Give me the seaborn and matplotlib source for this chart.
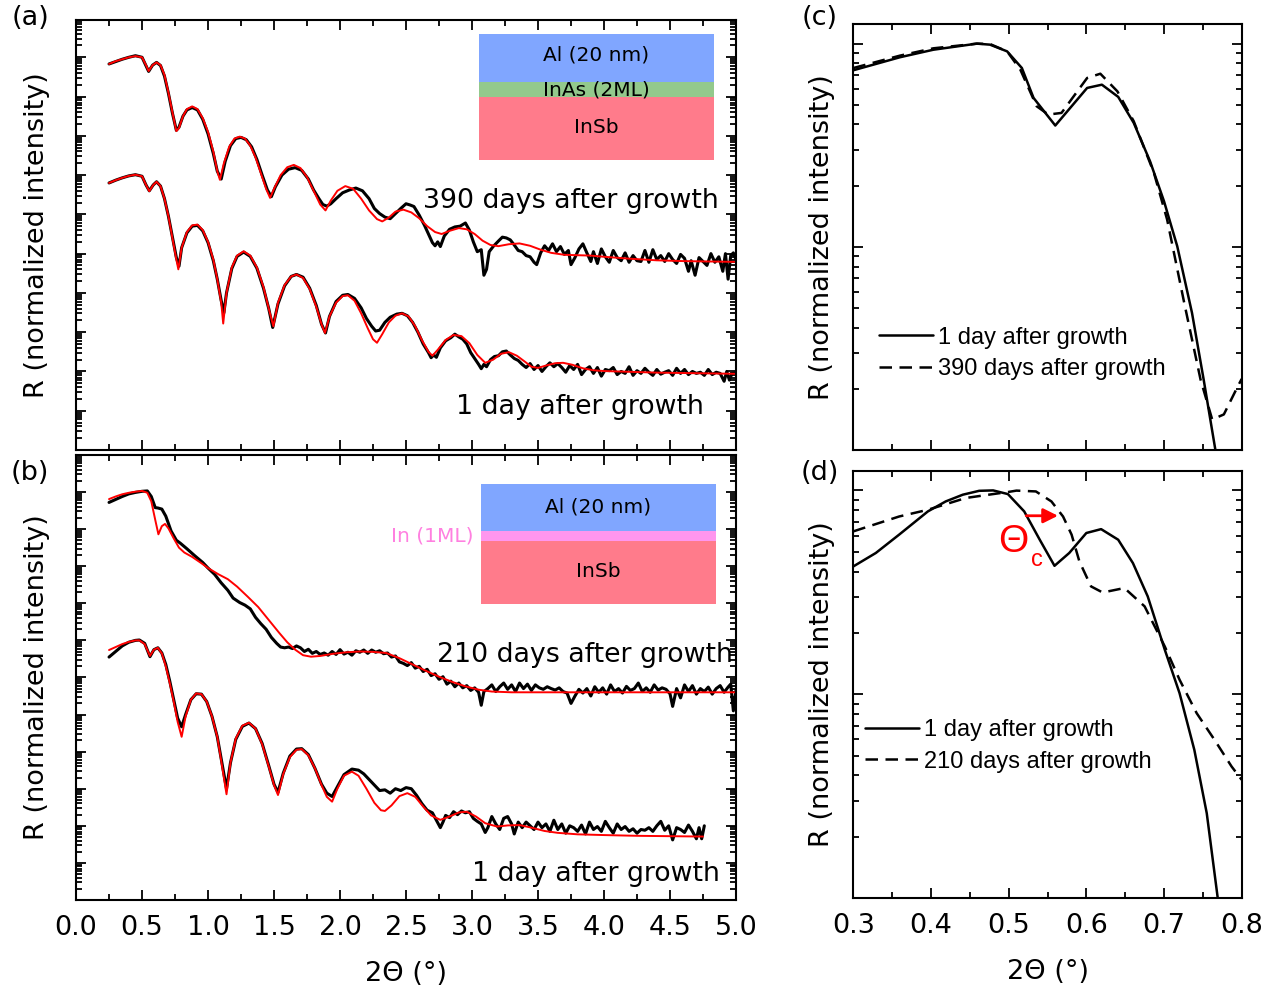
import numpy as np
import matplotlib
matplotlib.use("Agg")
import matplotlib.pyplot as plt
from matplotlib.patches import Rectangle
from matplotlib.ticker import LogLocator, MultipleLocator, NullFormatter, FormatStrFormatter
import seaborn as sns

# all curves: (2theta in deg, log10 of normalized reflectivity, offset for clarity)

# (a) Al / InAs(2ML) / InSb
a390_fit = [(0.25, 9.83), (0.30, 9.90), (0.35, 9.95), (0.40, 10.00), (0.45, 10.03), (0.50, 10.00),
            (0.53, 9.80), (0.55, 9.65), (0.58, 9.80), (0.61, 9.87), (0.64, 9.80), (0.67, 9.55),
            (0.70, 9.10), (0.73, 8.60), (0.76, 8.12), (0.78, 8.20), (0.81, 8.50), (0.84, 8.68),
            (0.88, 8.75), (0.92, 8.68), (0.96, 8.45), (1.00, 8.10), (1.04, 7.60), (1.07, 7.10),
            (1.09, 6.88), (1.12, 7.30), (1.16, 7.72), (1.20, 7.93), (1.24, 7.98), (1.28, 7.93),
            (1.32, 7.75), (1.36, 7.45), (1.40, 7.05), (1.44, 6.65), (1.47, 6.42), (1.50, 6.65),
            (1.55, 7.00), (1.60, 7.20), (1.65, 7.26), (1.70, 7.18), (1.75, 6.95), (1.80, 6.60),
            (1.85, 6.25), (1.89, 6.10), (1.93, 6.35), (1.98, 6.60), (2.04, 6.72), (2.10, 6.65),
            (2.16, 6.40), (2.22, 6.10), (2.28, 5.88), (2.32, 5.82), (2.37, 5.92), (2.42, 6.07),
            (2.48, 6.12), (2.54, 6.05), (2.60, 5.90), (2.66, 5.70), (2.72, 5.55), (2.77, 5.50),
            (2.83, 5.58), (2.90, 5.65), (2.96, 5.62), (3.02, 5.50), (3.08, 5.33), (3.14, 5.22),
            (3.20, 5.19), (3.28, 5.24), (3.36, 5.26), (3.44, 5.20), (3.52, 5.10), (3.60, 5.02),
            (3.70, 4.97), (3.80, 4.96), (3.90, 4.95), (4.00, 4.92), (4.20, 4.87), (4.40, 4.83),
            (4.60, 4.81), (4.80, 4.80), (5.00, 4.79)]
a390_meas = [(0.25, 9.83), (0.30, 9.89), (0.35, 9.95), (0.40, 10.00), (0.45, 10.04), (0.50, 10.00),
             (0.53, 9.78), (0.55, 9.64), (0.58, 9.80), (0.61, 9.87), (0.64, 9.79), (0.67, 9.52),
             (0.70, 9.08), (0.73, 8.58), (0.76, 8.14), (0.78, 8.22), (0.81, 8.50), (0.84, 8.66),
             (0.88, 8.72), (0.92, 8.66), (0.96, 8.42), (1.00, 8.05), (1.04, 7.55), (1.07, 7.10),
             (1.10, 6.90), (1.13, 7.35), (1.17, 7.75), (1.21, 7.93), (1.25, 7.96), (1.29, 7.90),
             (1.33, 7.72), (1.37, 7.40), (1.41, 7.00), (1.45, 6.62), (1.48, 6.45), (1.51, 6.70),
             (1.56, 7.00), (1.61, 7.15), (1.66, 7.19), (1.71, 7.12), (1.76, 6.90), (1.80, 6.62),
             (1.84, 6.40), (1.87, 6.25), (1.90, 6.21), (1.93, 6.27), (1.97, 6.40), (2.02, 6.55),
             (2.07, 6.62), (2.12, 6.67), (2.17, 6.60), (2.22, 6.40), (2.26, 6.15), (2.30, 6.02),
             (2.34, 5.93), (2.38, 5.89), (2.42, 6.02), (2.46, 6.15), (2.50, 6.27), (2.53, 6.24),
             (2.56, 6.20), (2.60, 5.98), (2.64, 5.72), (2.67, 5.50), (2.70, 5.28), (2.72, 5.20),
             (2.74, 5.30), (2.76, 5.18), (2.79, 5.45), (2.83, 5.62), (2.87, 5.68), (2.91, 5.70),
             (2.95, 5.78), (2.98, 5.60), (3.01, 5.30), (3.04, 5.05), (3.07, 5.10), (3.09, 4.45),
             (3.11, 4.60), (3.13, 5.05), (3.16, 5.18), (3.20, 5.32), (3.23, 5.42), (3.26, 5.40),
             (3.29, 5.35), (3.32, 5.22), (3.35, 5.08), (3.38, 5.05), (3.41, 4.95), (3.44, 4.92),
             (3.47, 4.78), (3.49, 4.72), (3.52, 5.02), (3.55, 5.20), (3.58, 5.08), (3.61, 5.25),
             (3.64, 5.05), (3.67, 5.18), (3.70, 4.98), (3.73, 5.08), (3.75, 4.72), (3.78, 4.90),
             (3.81, 5.12), (3.84, 5.25), (3.87, 5.02), (3.90, 4.80), (3.92, 5.05), (3.95, 4.75),
             (3.98, 5.12), (4.01, 4.92), (4.04, 4.78), (4.07, 5.08), (4.10, 4.90), (4.13, 4.82),
             (4.16, 5.02), (4.19, 4.78), (4.22, 4.95), (4.25, 4.82), (4.28, 4.80), (4.31, 5.08),
             (4.34, 4.78), (4.37, 5.10), (4.40, 4.85), (4.43, 4.95), (4.46, 4.80), (4.49, 5.00),
             (4.52, 4.85), (4.55, 4.75), (4.58, 4.98), (4.61, 4.88), (4.64, 4.55), (4.66, 4.82),
             (4.69, 4.45), (4.72, 4.90), (4.75, 4.80), (4.78, 4.70), (4.81, 5.00), (4.84, 4.78),
             (4.87, 4.92), (4.90, 4.55), (4.92, 5.00), (4.94, 4.35), (4.96, 4.95), (4.98, 5.02),
             (5.00, 4.85)]
a1_fit = [(0.25, 6.80), (0.30, 6.87), (0.35, 6.93), (0.40, 6.98), (0.45, 7.01), (0.50, 6.97),
          (0.53, 6.75), (0.555, 6.59), (0.585, 6.75), (0.61, 6.83), (0.64, 6.72), (0.67, 6.40),
          (0.70, 5.95), (0.73, 5.40), (0.76, 4.85), (0.775, 4.60), (0.80, 5.15), (0.84, 5.55),
          (0.88, 5.72), (0.92, 5.74), (0.96, 5.60), (1.00, 5.30), (1.04, 4.85), (1.07, 4.35),
          (1.10, 3.75), (1.115, 3.22), (1.14, 4.00), (1.18, 4.65), (1.22, 4.95), (1.27, 5.06),
          (1.32, 4.95), (1.37, 4.65), (1.42, 4.15), (1.46, 3.60), (1.495, 3.15), (1.53, 3.75),
          (1.58, 4.20), (1.63, 4.42), (1.67, 4.47), (1.72, 4.38), (1.77, 4.10), (1.82, 3.65),
          (1.86, 3.20), (1.886, 2.98), (1.92, 3.40), (1.97, 3.75), (2.02, 3.92), (2.06, 3.94),
          (2.11, 3.80), (2.16, 3.48), (2.21, 3.10), (2.25, 2.82), (2.28, 2.73), (2.32, 2.95),
          (2.37, 3.25), (2.42, 3.42), (2.47, 3.48), (2.52, 3.40), (2.57, 3.15), (2.62, 2.80),
          (2.67, 2.50), (2.70, 2.40), (2.74, 2.55), (2.80, 2.80), (2.86, 2.93), (2.92, 2.90),
          (2.98, 2.72), (3.04, 2.42), (3.10, 2.22), (3.16, 2.30), (3.22, 2.45), (3.28, 2.49),
          (3.34, 2.40), (3.40, 2.25), (3.45, 2.12), (3.50, 2.09), (3.56, 2.15), (3.63, 2.21),
          (3.69, 2.22), (3.76, 2.17), (3.84, 2.08), (3.92, 2.03), (4.00, 2.01), (4.20, 1.99),
          (4.40, 1.97), (4.60, 1.96), (4.80, 1.95), (5.00, 1.94)]
a1_meas = [(0.25, 6.80), (0.30, 6.87), (0.35, 6.93), (0.40, 6.98), (0.45, 7.01), (0.50, 6.97),
           (0.53, 6.75), (0.555, 6.60), (0.585, 6.75), (0.61, 6.83), (0.64, 6.72), (0.67, 6.40),
           (0.70, 5.95), (0.73, 5.42), (0.76, 4.90), (0.78, 4.68), (0.80, 5.15), (0.84, 5.53),
           (0.88, 5.70), (0.92, 5.72), (0.96, 5.58), (1.00, 5.28), (1.04, 4.82), (1.07, 4.35),
           (1.10, 3.80), (1.12, 3.49), (1.14, 4.00), (1.18, 4.62), (1.22, 4.93), (1.27, 5.04),
           (1.32, 4.93), (1.37, 4.63), (1.42, 4.12), (1.46, 3.60), (1.49, 3.12), (1.53, 3.72),
           (1.58, 4.18), (1.63, 4.42), (1.67, 4.47), (1.72, 4.40), (1.77, 4.12), (1.82, 3.68),
           (1.86, 3.20), (1.89, 2.98), (1.92, 3.40), (1.97, 3.78), (2.02, 3.94), (2.06, 3.96),
           (2.11, 3.86), (2.16, 3.62), (2.20, 3.35), (2.24, 3.15), (2.27, 3.03), (2.30, 3.05),
           (2.34, 3.25), (2.38, 3.38), (2.43, 3.46), (2.47, 3.48), (2.51, 3.42), (2.55, 3.25),
           (2.59, 3.00), (2.63, 2.70), (2.67, 2.48), (2.69, 2.35), (2.71, 2.42), (2.73, 2.36),
           (2.76, 2.60), (2.80, 2.78), (2.84, 2.86), (2.87, 2.95), (2.90, 2.88), (2.93, 2.82),
           (2.96, 2.70), (2.99, 2.48), (3.02, 2.33), (3.05, 2.18), (3.07, 2.07), (3.09, 2.18),
           (3.11, 2.12), (3.14, 2.30), (3.17, 2.38), (3.20, 2.40), (3.23, 2.50), (3.26, 2.52),
           (3.29, 2.42), (3.32, 2.33), (3.35, 2.28), (3.38, 2.18), (3.41, 2.10), (3.44, 2.20),
           (3.47, 2.05), (3.50, 2.15), (3.53, 2.00), (3.56, 2.12), (3.59, 2.22), (3.62, 2.12),
           (3.65, 2.20), (3.68, 2.10), (3.71, 1.98), (3.74, 2.15), (3.77, 2.05), (3.80, 2.18),
           (3.83, 1.92), (3.86, 2.05), (3.89, 2.12), (3.92, 1.95), (3.95, 2.10), (3.98, 1.88),
           (4.01, 2.05), (4.04, 2.02), (4.07, 2.10), (4.10, 1.92), (4.13, 2.00), (4.16, 1.95),
           (4.19, 2.12), (4.22, 1.90), (4.25, 2.02), (4.28, 1.95), (4.31, 2.08), (4.34, 1.98),
           (4.37, 1.90), (4.40, 2.05), (4.43, 1.93), (4.46, 1.98), (4.49, 2.02), (4.52, 1.90),
           (4.55, 2.08), (4.58, 1.95), (4.61, 2.05), (4.64, 1.92), (4.67, 2.00), (4.70, 1.95),
           (4.73, 1.98), (4.76, 1.90), (4.79, 2.05), (4.82, 1.92), (4.85, 1.98), (4.88, 1.95),
           (4.91, 1.75), (4.93, 2.00), (4.95, 1.78), (4.97, 1.95), (5.00, 1.96)]

# (b) Al / In(1ML) / InSb
b210_fit = [(0.25, 10.81), (0.30, 10.88), (0.35, 10.94), (0.40, 10.98), (0.45, 11.01), (0.50, 11.03),
            (0.54, 10.98), (0.57, 10.75), (0.60, 10.25), (0.624, 9.86), (0.65, 10.08), (0.674, 10.14),
            (0.70, 10.02), (0.74, 9.75), (0.78, 9.50), (0.82, 9.37), (0.88, 9.25), (0.95, 9.08),
            (1.00, 8.95), (1.08, 8.78), (1.15, 8.65), (1.22, 8.45), (1.30, 8.18), (1.38, 7.90),
            (1.46, 7.55), (1.54, 7.20), (1.60, 6.95), (1.66, 6.75), (1.72, 6.60), (1.78, 6.56),
            (1.85, 6.58), (1.95, 6.64), (2.05, 6.68), (2.15, 6.70), (2.25, 6.69), (2.35, 6.66),
            (2.45, 6.52), (2.55, 6.35), (2.65, 6.18), (2.75, 6.02), (2.85, 5.88), (2.95, 5.76),
            (3.05, 5.67), (3.15, 5.62), (3.30, 5.60), (3.60, 5.60), (4.00, 5.60), (4.50, 5.60),
            (5.00, 5.60)]
b210_meas = [(0.25, 10.72), (0.30, 10.80), (0.35, 10.88), (0.40, 10.95), (0.45, 10.99), (0.50, 11.02),
             (0.54, 11.03), (0.57, 10.88), (0.60, 10.58), (0.62, 10.57), (0.65, 10.54), (0.68, 10.35),
             (0.72, 9.95), (0.76, 9.70), (0.79, 9.62), (0.84, 9.47), (0.90, 9.28), (0.96, 9.10),
             (1.00, 8.95), (1.05, 8.78), (1.10, 8.55), (1.15, 8.35), (1.19, 8.14), (1.24, 8.02),
             (1.28, 7.95), (1.32, 7.85), (1.36, 7.62), (1.40, 7.45), (1.44, 7.30), (1.48, 7.08),
             (1.52, 6.92), (1.55, 6.82), (1.58, 6.80), (1.61, 6.82), (1.64, 6.78), (1.67, 6.85),
             (1.70, 6.80), (1.73, 6.70), (1.76, 6.76), (1.79, 6.65), (1.82, 6.70), (1.85, 6.62),
             (1.88, 6.66), (1.91, 6.60), (1.94, 6.70), (1.97, 6.62), (2.00, 6.75), (2.03, 6.63),
             (2.06, 6.68), (2.09, 6.60), (2.12, 6.72), (2.15, 6.68), (2.18, 6.74), (2.21, 6.65),
             (2.24, 6.74), (2.27, 6.68), (2.30, 6.72), (2.33, 6.64), (2.36, 6.66), (2.39, 6.55),
             (2.42, 6.58), (2.45, 6.42), (2.48, 6.38), (2.51, 6.32), (2.54, 6.40), (2.57, 6.25),
             (2.60, 6.30), (2.63, 6.16), (2.66, 6.22), (2.69, 6.05), (2.72, 6.10), (2.75, 5.95),
             (2.78, 6.02), (2.81, 5.82), (2.84, 5.90), (2.87, 5.75), (2.90, 5.85), (2.93, 5.72),
             (2.96, 5.78), (2.99, 5.65), (3.02, 5.72), (3.05, 5.60), (3.07, 5.25), (3.09, 5.62),
             (3.12, 5.70), (3.15, 5.80), (3.18, 5.62), (3.21, 5.75), (3.24, 5.85), (3.27, 5.68),
             (3.30, 5.80), (3.33, 5.62), (3.36, 5.85), (3.39, 5.70), (3.42, 5.82), (3.45, 5.65),
             (3.48, 5.80), (3.51, 5.72), (3.54, 5.68), (3.57, 5.75), (3.60, 5.70), (3.63, 5.66),
             (3.66, 5.72), (3.69, 5.62), (3.72, 5.58), (3.75, 5.30), (3.78, 5.50), (3.81, 5.68),
             (3.84, 5.58), (3.87, 5.70), (3.90, 5.50), (3.93, 5.75), (3.96, 5.60), (3.99, 5.72),
             (4.02, 5.55), (4.05, 5.80), (4.08, 5.62), (4.11, 5.70), (4.14, 5.58), (4.17, 5.76),
             (4.20, 5.65), (4.23, 5.70), (4.26, 5.85), (4.29, 5.62), (4.32, 5.72), (4.35, 5.60),
             (4.38, 5.80), (4.41, 5.66), (4.44, 5.72), (4.47, 5.68), (4.50, 5.56), (4.52, 5.22),
             (4.55, 5.70), (4.58, 5.45), (4.61, 5.80), (4.64, 5.62), (4.67, 5.78), (4.70, 5.55),
             (4.73, 5.70), (4.76, 5.62), (4.79, 5.74), (4.82, 5.55), (4.85, 5.70), (4.88, 5.78),
             (4.91, 5.60), (4.94, 5.74), (4.96, 5.82), (4.98, 5.10), (5.00, 5.65)]
b1_fit = [(0.25, 6.74), (0.30, 6.82), (0.35, 6.90), (0.40, 6.96), (0.45, 7.00), (0.48, 7.00),
          (0.52, 6.90), (0.56, 6.58), (0.59, 6.75), (0.62, 6.80), (0.65, 6.65), (0.68, 6.30),
          (0.71, 5.85), (0.74, 5.35), (0.77, 4.80), (0.80, 4.40), (0.83, 4.95), (0.87, 5.40),
          (0.91, 5.57), (0.95, 5.55), (0.99, 5.35), (1.03, 4.95), (1.07, 4.40), (1.10, 3.75),
          (1.14, 2.85), (1.17, 3.70), (1.21, 4.35), (1.26, 4.70), (1.31, 4.78), (1.36, 4.62),
          (1.41, 4.20), (1.46, 3.60), (1.50, 3.10), (1.53, 2.83), (1.57, 3.40), (1.62, 3.85),
          (1.67, 4.05), (1.71, 4.07), (1.76, 3.90), (1.81, 3.55), (1.86, 3.10), (1.90, 2.78),
          (1.94, 2.65), (1.98, 3.00), (2.03, 3.35), (2.09, 3.46), (2.14, 3.35), (2.20, 3.00),
          (2.26, 2.62), (2.31, 2.42), (2.34, 2.40), (2.39, 2.55), (2.45, 2.80), (2.51, 2.88),
          (2.57, 2.78), (2.63, 2.52), (2.69, 2.28), (2.76, 2.16), (2.83, 2.25), (2.90, 2.36),
          (2.96, 2.38), (3.03, 2.25), (3.10, 2.07), (3.19, 1.98), (3.27, 2.01), (3.36, 2.02),
          (3.45, 1.95), (3.55, 1.86), (3.65, 1.81), (3.80, 1.77), (4.00, 1.75), (4.25, 1.73),
          (4.50, 1.72), (4.75, 1.71)]
b1_meas = [(0.25, 6.55), (0.30, 6.70), (0.35, 6.85), (0.40, 6.95), (0.45, 7.00), (0.48, 7.01),
           (0.52, 6.92), (0.56, 6.56), (0.59, 6.75), (0.62, 6.80), (0.65, 6.66), (0.68, 6.35),
           (0.71, 5.90), (0.74, 5.40), (0.77, 4.90), (0.80, 4.67), (0.83, 5.00), (0.87, 5.40),
           (0.91, 5.56), (0.95, 5.55), (0.99, 5.35), (1.03, 4.95), (1.07, 4.40), (1.10, 3.80),
           (1.14, 3.00), (1.17, 3.70), (1.21, 4.33), (1.26, 4.68), (1.31, 4.77), (1.36, 4.62),
           (1.41, 4.22), (1.46, 3.62), (1.50, 3.12), (1.53, 2.90), (1.57, 3.42), (1.62, 3.88),
           (1.67, 4.07), (1.71, 4.08), (1.76, 3.92), (1.81, 3.55), (1.86, 3.12), (1.90, 2.88),
           (1.94, 2.79), (1.98, 3.05), (2.03, 3.38), (2.09, 3.53), (2.14, 3.50), (2.18, 3.40),
           (2.22, 3.25), (2.26, 3.10), (2.30, 2.95), (2.34, 2.97), (2.38, 2.88), (2.42, 3.00),
           (2.46, 2.95), (2.50, 3.03), (2.54, 3.00), (2.58, 2.82), (2.62, 2.60), (2.66, 2.42),
           (2.70, 2.35), (2.73, 2.15), (2.76, 1.95), (2.78, 2.10), (2.80, 2.28), (2.83, 2.22),
           (2.86, 2.38), (2.89, 2.30), (2.92, 2.40), (2.95, 2.35), (2.98, 2.38), (3.01, 2.20),
           (3.04, 2.12), (3.07, 2.05), (3.10, 1.82), (3.12, 1.95), (3.15, 2.25), (3.18, 2.05),
           (3.21, 1.90), (3.24, 2.20), (3.27, 2.25), (3.30, 2.05), (3.32, 1.78), (3.35, 2.10),
           (3.38, 1.95), (3.41, 2.10), (3.44, 2.00), (3.47, 1.90), (3.50, 2.10), (3.53, 1.95),
           (3.56, 2.05), (3.59, 1.85), (3.62, 2.15), (3.65, 1.90), (3.68, 2.05), (3.71, 1.80),
           (3.74, 2.00), (3.77, 1.95), (3.80, 1.85), (3.83, 2.02), (3.86, 1.78), (3.89, 2.10),
           (3.92, 1.90), (3.95, 1.98), (3.98, 1.85), (4.01, 2.12), (4.04, 1.95), (4.07, 1.80),
           (4.10, 2.05), (4.13, 1.90), (4.16, 1.98), (4.19, 1.85), (4.22, 1.92), (4.25, 1.80),
           (4.28, 1.90), (4.31, 1.88), (4.34, 1.95), (4.37, 1.85), (4.40, 2.00), (4.43, 2.12),
           (4.46, 1.88), (4.49, 2.00), (4.52, 1.62), (4.55, 1.95), (4.58, 1.90), (4.61, 1.82),
           (4.64, 2.02), (4.67, 1.85), (4.70, 1.65), (4.72, 1.95), (4.74, 1.65), (4.76, 2.00)]

# (c), (d) zoom near the critical angle, log10(R)
c_1day = [(0.300, -0.131), (0.360, -0.067), (0.403, -0.030), (0.459, 0.000), (0.476, -0.005),
          (0.498, -0.038), (0.517, -0.120), (0.532, -0.267), (0.560, -0.403), (0.601, -0.218),
          (0.620, -0.202), (0.641, -0.262), (0.661, -0.390), (0.682, -0.579), (0.700, -0.776),
          (0.717, -0.997), (0.736, -1.325), (0.751, -1.653), (0.766, -1.997), (0.775, -2.200)]
c_390day = [(0.300, -0.120), (0.360, -0.059), (0.403, -0.023), (0.459, 0.000), (0.476, -0.002),
            (0.498, -0.038), (0.515, -0.128), (0.536, -0.308), (0.551, -0.349), (0.568, -0.341),
            (0.601, -0.169), (0.618, -0.148), (0.640, -0.235), (0.661, -0.382), (0.687, -0.636),
            (0.704, -0.866), (0.726, -1.276), (0.747, -1.653), (0.762, -1.850), (0.777, -1.825),
            (0.794, -1.694), (0.800, -1.650)]
d_1day = [(0.300, -0.373), (0.329, -0.307), (0.359, -0.217), (0.396, -0.103), (0.419, -0.054),
          (0.441, -0.021), (0.462, -0.002), (0.480, 0.000), (0.499, -0.018), (0.520, -0.103),
          (0.540, -0.242), (0.559, -0.370), (0.578, -0.307), (0.600, -0.209), (0.619, -0.190),
          (0.641, -0.242), (0.660, -0.357), (0.679, -0.520), (0.701, -0.782), (0.720, -0.995),
          (0.739, -1.273), (0.755, -1.584), (0.769, -1.996), (0.775, -2.200)]
d_210day = [(0.300, -0.201), (0.359, -0.128), (0.396, -0.095), (0.445, -0.037), (0.480, -0.018),
            (0.499, -0.008), (0.510, -0.001), (0.535, -0.005), (0.555, -0.054), (0.570, -0.128),
            (0.581, -0.217), (0.591, -0.348), (0.606, -0.471), (0.621, -0.501), (0.649, -0.479),
            (0.675, -0.569), (0.701, -0.766), (0.720, -0.929), (0.742, -1.093), (0.765, -1.224),
            (0.787, -1.355), (0.800, -1.420)]

sns.set_style("ticks")
plt.rcParams["font.family"] = ["DejaVu Sans"]
plt.rcParams["text.color"] = "black"
plt.rcParams["axes.labelcolor"] = "black"

LAB = 19.5

fig = plt.figure(figsize=(12.78, 9.94), dpi=100)
ax_a = fig.add_axes([0.0595, 0.5473, 0.5164, 0.4326])
ax_b = fig.add_axes([0.0595, 0.0946, 0.5164, 0.4477])
ax_c = fig.add_axes([0.6677, 0.5473, 0.3039, 0.4286])
ax_d = fig.add_axes([0.6677, 0.0966, 0.3039, 0.4299])


def draw(ax, pts, color, lw, ls="-", label=None):
    arr = np.array(pts)
    sns.lineplot(x=arr[:, 0], y=10 ** arr[:, 1], ax=ax, color=color, lw=lw,
                 linestyle=ls, label=label, sort=False, estimator=None)


def style(ax):
    ax.set_yscale("log")
    for s in ax.spines.values():
        s.set_linewidth(1.5)
        s.set_color("black")
    ax.tick_params(which="both", direction="in", top=True, right=True,
                   width=1.3, labelsize=LAB, colors="black", pad=11)
    ax.tick_params(which="major", length=7)
    ax.tick_params(which="minor", length=4)
    ax.yaxis.set_major_locator(LogLocator(base=10, numticks=40))
    ax.yaxis.set_minor_locator(LogLocator(base=10, subs=np.arange(2, 10), numticks=200))
    ax.yaxis.set_major_formatter(NullFormatter())
    ax.yaxis.set_minor_formatter(NullFormatter())
    ax.set_ylabel("R (normalized intensity)", fontsize=LAB)
    ax.set_xlabel("")


for ax, curves in [(ax_a, [a390_meas, a390_fit, a1_meas, a1_fit]),
                   (ax_b, [b210_meas, b210_fit, b1_meas, b1_fit])]:
    for i, c in enumerate(curves):
        if i % 2 == 0:
            draw(ax, c, "black", 2.2)
        else:
            draw(ax, c, "red", 1.4)
    style(ax)
    ax.set_xlim(0, 5)
    ax.xaxis.set_major_locator(MultipleLocator(0.5))
    ax.xaxis.set_minor_locator(MultipleLocator(0.25))
    ax.yaxis.set_label_coords(-0.040, 0.5)

ax_a.set_ylim(1, 10 ** 10.95)
ax_b.set_ylim(1, 1e12)
ax_a.tick_params(labelbottom=False)
ax_b.xaxis.set_major_formatter(FormatStrFormatter("%.1f"))
ax_b.set_xlabel("2\u0398 (\u00b0)", fontsize=LAB, labelpad=14)

draw(ax_c, c_1day, "black", 1.8, "-", "1 day after growth")
draw(ax_c, c_390day, "black", 1.8, (0, (5, 3)), "390 days after growth")
draw(ax_d, d_1day, "black", 1.8, "-", "1 day after growth")
draw(ax_d, d_210day, "black", 1.8, (0, (5, 3)), "210 days after growth")
for ax in (ax_c, ax_d):
    style(ax)
    ax.set_xlim(0.3, 0.8)
    ax.set_ylim(0.01, 1.25)
    ax.xaxis.set_major_locator(MultipleLocator(0.1))
    ax.xaxis.set_minor_locator(MultipleLocator(0.05))
    ax.yaxis.set_label_coords(-0.046, 0.5)
ax_c.tick_params(labelbottom=False)
ax_d.xaxis.set_major_formatter(FormatStrFormatter("%.1f"))
ax_d.set_xlabel("2\u0398 (\u00b0)", fontsize=LAB, labelpad=14)

leg_font = {"family": "Liberation Sans", "size": 17}
ax_c.legend(loc="center left", bbox_to_anchor=(0.065, 0.227), frameon=False, prop=leg_font,
            handlelength=2.3, handletextpad=0.2, labelspacing=0.4, borderaxespad=0, borderpad=0)
ax_d.legend(loc="center left", bbox_to_anchor=(0.03, 0.356), frameon=False, prop=leg_font,
            handlelength=2.3, handletextpad=0.2, labelspacing=0.4, borderaxespad=0, borderpad=0)

# critical angle shift
ax_d.annotate("", xy=(0.567, 0.751), xytext=(0.519, 0.751),
              arrowprops=dict(arrowstyle="-|>", color="red", lw=2, mutation_scale=22))
ax_d.text(0.412, 0.834, "\u0398", transform=ax_d.transAxes, color="red", fontsize=28,
          family="Liberation Sans", ha="center", va="center")
ax_d.text(0.472, 0.790, "c", transform=ax_d.transAxes, color="red", fontsize=17,
          family="Liberation Sans", ha="center", va="center")

# curve labels
ax_a.text(0.974, 0.579, "390 days after growth", transform=ax_a.transAxes, fontsize=19.3,
          ha="right", va="center")
ax_a.text(0.9515, 0.100, "1 day after growth", transform=ax_a.transAxes, fontsize=19.3,
          ha="right", va="center")
ax_b.text(0.9955, 0.551, "210 days after growth", transform=ax_b.transAxes, fontsize=19.3,
          ha="right", va="center")
ax_b.text(0.976, 0.058, "1 day after growth", transform=ax_b.transAxes, fontsize=19.3,
          ha="right", va="center")

# layer stack sketches
blue, green, red, pink = "#80a6ff", "#93c98c", "#ff7b8b", "#ff96ee"
x0, x1 = 0.6106, 0.9667
for (yb, yt, col) in [(0.856, 0.967, blue), (0.821, 0.856, green), (0.674, 0.821, red)]:
    ax_a.add_patch(Rectangle((x0, yb), x1 - x0, yt - yb, transform=ax_a.transAxes,
                             facecolor=col, edgecolor="none", zorder=3))
xc = (x0 + x1) / 2
ax_a.text(xc, 0.919, "Al (20 nm)", transform=ax_a.transAxes, fontsize=14.5, ha="center", va="center", zorder=4)
ax_a.text(xc, 0.837, "InAs (2ML)", transform=ax_a.transAxes, fontsize=14.5, ha="center", va="center", zorder=4)
ax_a.text(xc, 0.749, "InSb", transform=ax_a.transAxes, fontsize=14.5, ha="center", va="center", zorder=4)

x0, x1 = 0.6136, 0.9697
for (yb, yt, col) in [(0.829, 0.935, blue), (0.807, 0.829, pink), (0.665, 0.807, red)]:
    ax_b.add_patch(Rectangle((x0, yb), x1 - x0, yt - yb, transform=ax_b.transAxes,
                             facecolor=col, edgecolor="none", zorder=3))
xc = (x0 + x1) / 2
ax_b.text(xc, 0.883, "Al (20 nm)", transform=ax_b.transAxes, fontsize=14.5, ha="center", va="center", zorder=4)
ax_b.text(xc, 0.737, "InSb", transform=ax_b.transAxes, fontsize=14.5, ha="center", va="center", zorder=4)
ax_b.text(0.6015, 0.818, "In (1ML)", transform=ax_b.transAxes, fontsize=14.5, color="#ff80e0",
          ha="right", va="center", zorder=4)

for lab, x, y in [("(a)", 0.0235, 0.982), ("(b)", 0.0235, 0.524), ("(c)", 0.6417, 0.982), ("(d)", 0.6417, 0.524)]:
    fig.text(x, y, lab, fontsize=LAB, ha="center", va="center")

fig.savefig("out.png", dpi=100)
